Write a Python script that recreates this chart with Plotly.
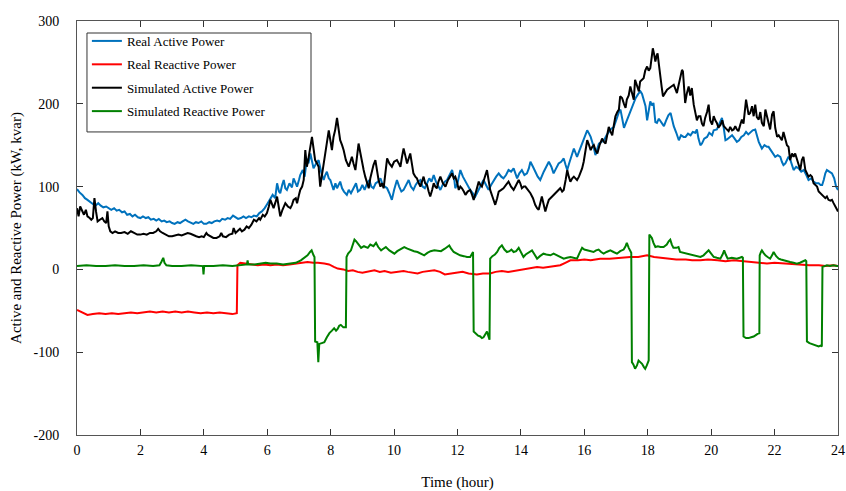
import plotly.graph_objects as go

# ---- data (time in hours, power in kW / kvar) ----
real_active = [
(0.00,97),(0.08,93),(0.17,90),(0.25,86),(0.33,84),(0.42,81),(0.50,79),(0.58,77),(0.67,80),(0.75,77),(0.83,75),(0.92,76),
(1.00,74),(1.08,72),(1.17,74),(1.25,71),(1.33,72),(1.42,69),(1.50,70),(1.58,66),(1.67,67),(1.75,64),(1.83,66),(1.92,63),
(2.00,62),(2.08,64),(2.17,62),(2.25,63),(2.33,60),(2.42,61),(2.50,59),(2.58,61),(2.67,58),(2.75,59),(2.83,57),(2.92,58),
(3.00,56),(3.08,55),(3.17,57),(3.25,56),(3.33,58),(3.42,60),(3.50,58),(3.58,57),(3.67,55),(3.75,57),(3.83,56),(3.92,58),
(4.00,55),(4.08,55),(4.17,57),(4.25,56),(4.33,58),(4.42,59),(4.50,58),(4.58,61),(4.67,60),(4.75,62),(4.83,61),(4.92,65),
(5.00,63),(5.08,61),(5.17,62),(5.25,64),(5.33,62),(5.42,64),(5.50,63),(5.58,65),(5.67,64),(5.75,68),(5.83,70),(5.92,74),
(6.00,79),(6.08,84),(6.17,90),(6.25,86),(6.31,104),(6.37,94),(6.41,92),(6.47,102),(6.52,108),(6.57,98),(6.62,96),(6.70,104),
(6.78,99),(6.83,110),(6.90,104),(6.94,100),(7.00,108),(7.04,114),(7.12,120),(7.18,112),(7.25,134),(7.30,128),(7.36,140),
(7.41,130),(7.46,122),(7.54,128),(7.62,132),(7.70,118),(7.78,108),(7.83,114),(7.88,118),(7.94,110),(7.99,108),(8.04,102),
(8.09,96),(8.15,104),(8.20,98),(8.30,106),(8.36,98),(8.42,94),(8.51,90),(8.57,96),(8.64,92),(8.72,98),(8.80,104),(8.86,94),
(8.93,96),(9.00,102),(9.07,96),(9.15,104),(9.22,108),(9.28,100),(9.35,98),(9.42,104),(9.50,106),(9.57,110),(9.64,102),
(9.71,100),(9.78,98),(9.85,92),(9.93,84),(10.00,96),(10.09,108),(10.16,100),(10.23,94),(10.30,96),(10.38,102),(10.46,108),
(10.53,100),(10.61,96),(10.68,102),(10.75,106),(10.83,108),(10.90,100),(10.97,98),(11.04,104),(11.11,110),(11.18,106),
(11.25,114),(11.32,106),(11.39,100),(11.46,96),(11.53,102),(11.60,106),(11.67,108),(11.75,114),(11.83,120),(11.90,108),
(11.93,98),(12.00,104),(12.09,120),(12.17,112),(12.25,106),(12.32,100),(12.40,96),(12.48,92),(12.56,88),(12.64,94),
(12.72,100),(12.82,108),(12.90,102),(12.98,96),(13.06,102),(13.14,108),(13.22,112),(13.30,116),(13.38,112),(13.45,110),
(13.53,114),(13.61,120),(13.69,118),(13.77,122),(13.84,114),(13.88,110),(13.95,116),(14.03,120),(14.11,114),(14.19,116),
(14.25,122),(14.30,130),(14.38,124),(14.45,118),(14.53,112),(14.61,108),(14.67,114),(14.72,118),(14.80,124),(14.88,130),
(14.96,124),(15.03,116),(15.11,122),(15.19,128),(15.27,130),(15.35,134),(15.41,126),(15.46,120),(15.52,128),(15.56,134),
(15.62,140),(15.67,146),(15.72,140),(15.77,136),(15.85,144),(15.93,152),(16.01,160),(16.09,168),(16.15,164),(16.20,160),
(16.28,150),(16.35,138),(16.41,146),(16.46,152),(16.54,154),(16.62,156),(16.70,162),(16.77,166),(16.85,170),(16.93,172),
(16.98,178),(17.04,185),(17.09,190),(17.14,193),(17.20,182),(17.25,171),(17.32,178),(17.40,186),(17.46,193),(17.54,200),
(17.62,207),(17.70,212),(17.77,215),(17.82,212),(17.88,204),(17.93,197),(17.98,180),(18.03,190),(18.08,203),(18.13,198),
(18.18,201),(18.24,178),(18.29,177),(18.35,182),(18.42,178),(18.51,173),(18.58,180),(18.65,186),(18.72,189),(18.77,180),
(18.82,173),(18.90,165),(18.98,156),(19.05,162),(19.13,160),(19.19,160),(19.27,164),(19.35,162),(19.42,166),(19.50,165),
(19.55,169),(19.60,158),(19.66,150),(19.71,152),(19.78,158),(19.87,160),(19.94,165),(20.03,162),(20.08,168),(20.18,169),
(20.24,175),(20.29,179),(20.34,183),(20.40,170),(20.45,156),(20.50,157),(20.58,160),(20.66,162),(20.74,158),(20.81,154),
(20.88,156),(20.95,160),(21.03,162),(21.10,166),(21.17,163),(21.24,165),(21.31,168),(21.39,169),(21.45,160),(21.50,154),
(21.55,150),(21.60,146),(21.68,150),(21.76,148),(21.81,148),(21.88,144),(21.97,140),(22.02,136),(22.10,138),(22.18,136),
(22.23,130),(22.28,126),(22.34,128),(22.44,136),(22.50,132),(22.55,126),(22.60,120),(22.68,124),(22.76,122),(22.84,118),
(22.92,120),(23.00,114),(23.07,108),(23.15,110),(23.23,106),(23.31,104),(23.39,104),(23.45,102),(23.50,102),(23.55,108),
(23.60,116),(23.65,120),(23.72,118),(23.81,116),(23.88,110),(23.94,100),(24.00,96)]

sim_active = [
(0.00,74),(0.05,64),(0.10,76),(0.17,70),(0.22,66),(0.28,72),(0.33,64),(0.40,62),(0.45,60),(0.50,62),(0.55,86),(0.60,70),
(0.65,58),(0.72,60),(0.80,62),(0.86,58),(0.92,56),(0.96,70),(1.00,52),(1.05,46),(1.12,44),(1.20,46),(1.30,44),(1.39,44),
(1.50,45),(1.60,43),(1.70,46),(1.80,44),(1.90,42),(2.00,42),(2.10,43),(2.20,42),(2.30,44),(2.40,44),(2.50,46),(2.56,49),
(2.62,46),(2.70,44),(2.80,42),(2.90,40),(3.00,40),(3.10,41),(3.20,42),(3.30,41),(3.40,43),(3.49,44),(3.58,43),(3.67,41),
(3.76,40),(3.85,39),(3.93,40),(4.00,39),(4.08,44),(4.12,42),(4.20,40),(4.30,38),(4.40,38),(4.50,40),(4.55,44),(4.60,40),
(4.70,39),(4.80,42),(4.90,43),(4.94,50),(5.00,44),(5.07,46),(5.14,49),(5.20,46),(5.28,48),(5.35,52),(5.42,50),(5.50,54),
(5.58,60),(5.66,58),(5.74,62),(5.78,60),(5.86,66),(5.92,64),(5.99,68),(6.05,76),(6.10,84),(6.16,78),(6.20,74),(6.25,80),
(6.31,88),(6.36,76),(6.41,64),(6.48,72),(6.57,80),(6.65,76),(6.73,74),(6.78,78),(6.83,84),(6.90,86),(6.94,80),(7.00,90),
(7.04,96),(7.10,100),(7.15,108),(7.20,144),(7.25,124),(7.30,134),(7.36,150),(7.41,160),(7.46,146),(7.51,132),(7.57,128),
(7.62,124),(7.67,100),(7.72,112),(7.78,124),(7.84,140),(7.90,158),(7.94,168),(7.99,156),(8.04,144),(8.09,160),(8.14,168),
(8.20,183),(8.25,170),(8.30,156),(8.36,150),(8.41,144),(8.48,132),(8.57,124),(8.62,130),(8.67,136),(8.72,128),(8.78,120),
(8.83,136),(8.88,152),(8.94,140),(8.99,128),(9.04,120),(9.09,112),(9.15,104),(9.20,98),(9.25,110),(9.30,120),(9.35,126),
(9.41,132),(9.46,120),(9.51,108),(9.57,100),(9.62,104),(9.67,98),(9.72,118),(9.78,134),(9.85,128),(9.93,124),(10.00,130),
(10.09,132),(10.15,128),(10.20,124),(10.25,136),(10.30,146),(10.35,138),(10.41,128),(10.46,134),(10.51,140),(10.56,128),
(10.61,116),(10.67,112),(10.72,110),(10.78,104),(10.83,100),(10.88,106),(10.93,112),(10.98,104),(11.04,102),(11.09,94),
(11.14,88),(11.20,96),(11.25,104),(11.30,100),(11.35,98),(11.40,106),(11.46,112),(11.54,104),(11.62,100),(11.70,108),
(11.78,112),(11.83,116),(11.88,110),(11.93,112),(11.98,106),(12.04,96),(12.09,100),(12.14,98),(12.20,94),(12.25,90),
(12.32,94),(12.40,96),(12.46,90),(12.51,84),(12.57,92),(12.62,100),(12.67,106),(12.72,102),(12.77,100),(12.85,110),
(12.93,120),(12.98,108),(13.03,96),(13.10,88),(13.19,78),(13.25,86),(13.30,94),(13.38,96),(13.45,98),(13.53,102),
(13.61,106),(13.69,100),(13.77,96),(13.85,102),(13.93,108),(13.98,104),(14.03,98),(14.09,100),(14.14,100),(14.22,96),
(14.30,92),(14.38,86),(14.45,78),(14.51,74),(14.56,72),(14.61,80),(14.66,88),(14.72,78),(14.77,70),(14.83,78),(14.88,84),
(14.93,86),(14.98,88),(15.06,90),(15.14,94),(15.19,96),(15.24,98),(15.30,94),(15.35,96),(15.41,108),(15.46,120),(15.51,112),
(15.56,106),(15.62,110),(15.67,112),(15.72,110),(15.77,108),(15.83,112),(15.88,116),(15.93,122),(15.98,130),(16.04,142),
(16.09,156),(16.15,150),(16.20,144),(16.25,148),(16.30,150),(16.35,144),(16.41,140),(16.48,150),(16.56,158),(16.62,154),
(16.67,152),(16.72,162),(16.77,172),(16.83,166),(16.88,162),(16.93,174),(16.98,185),(17.04,190),(17.09,193),(17.13,209),
(17.19,207),(17.25,200),(17.30,195),(17.34,205),(17.40,210),(17.45,221),(17.50,214),(17.56,205),(17.60,229),(17.66,222),
(17.72,215),(17.76,227),(17.82,229),(17.87,231),(17.92,240),(17.98,245),(18.03,240),(18.08,243),(18.12,255),(18.16,267),
(18.20,260),(18.24,251),(18.28,258),(18.31,261),(18.35,248),(18.39,233),(18.44,220),(18.48,209),(18.55,213),(18.61,217),
(18.68,219),(18.76,221),(18.82,223),(18.87,218),(18.92,213),(18.97,222),(19.02,230),(19.08,241),(19.11,239),(19.15,215),
(19.18,201),(19.23,212),(19.29,221),(19.34,210),(19.39,219),(19.45,199),(19.50,191),(19.55,180),(19.60,185),(19.66,185),
(19.71,176),(19.76,173),(19.81,183),(19.87,190),(19.92,199),(19.97,180),(20.03,175),(20.08,185),(20.13,180),(20.18,177),
(20.23,171),(20.30,175),(20.35,180),(20.40,173),(20.47,170),(20.55,167),(20.60,172),(20.66,168),(20.71,169),(20.76,173),
(20.81,169),(20.86,167),(20.92,175),(20.97,181),(21.02,176),(21.06,195),(21.10,205),(21.14,196),(21.18,187),(21.23,189),
(21.29,197),(21.34,185),(21.39,199),(21.44,184),(21.50,181),(21.55,190),(21.60,177),(21.66,173),(21.71,193),(21.76,185),
(21.81,178),(21.86,169),(21.92,187),(21.97,191),(22.02,171),(22.08,160),(22.13,162),(22.18,158),(22.23,156),(22.28,166),
(22.34,155),(22.39,150),(22.44,148),(22.49,132),(22.55,140),(22.60,136),(22.65,140),(22.70,134),(22.76,128),(22.81,120),
(22.86,132),(22.91,136),(22.97,120),(23.02,116),(23.07,112),(23.13,114),(23.18,112),(23.23,104),(23.29,102),(23.34,100),
(23.39,94),(23.44,92),(23.50,90),(23.55,88),(23.60,86),(23.65,88),(23.70,84),(23.76,83),(23.81,84),(23.86,80),(23.92,76),
(23.97,72),(24.00,70)]

real_reactive = [
(0,-49),(0.15,-52),(0.33,-55),(0.5,-54),(0.7,-53),(0.9,-54),(1.1,-53),(1.3,-54),(1.5,-53),(1.7,-52),(1.9,-53),(2.1,-52),
(2.3,-51),(2.5,-52),(2.7,-51),(2.9,-52),(3.1,-51),(3.3,-52),(3.5,-51),(3.7,-52),(3.9,-53),(4.1,-52),(4.3,-53),(4.5,-52),
(4.7,-53),(4.9,-54),(5.04,-53),(5.06,5),(5.15,8),(5.3,7),(5.5,6),(5.7,5),(5.9,6),(6.1,5),(6.3,6),(6.5,5),(6.7,6),(6.9,7),
(7.1,8),(7.27,9),(7.45,8),(7.6,8),(7.8,7),(7.95,6),(8.1,3),(8.22,1),(8.4,0),(8.55,-2),(8.7,-1),(8.85,-3),(9.0,-4),(9.2,-2),
(9.38,-1),(9.55,-3),(9.7,-2),(9.9,-4),(10.1,-3),(10.3,-2),(10.43,-3),(10.6,-4),(10.74,-5),(10.9,-3),(11.1,-2),(11.27,-1),
(11.45,-3),(11.6,-6),(11.8,-5),(12.0,-4),(12.16,-3),(12.35,-5),(12.61,-6),(12.8,-5),(13.03,-5),(13.2,-3),(13.4,-2),
(13.6,-3),(13.88,-1),(14.1,0),(14.3,2),(14.51,3),(14.7,2),(14.9,3),(15.1,4),(15.24,5),(15.4,8),(15.56,11),(15.8,11),
(16.0,12),(16.2,11),(16.5,13),(16.8,13),(17.1,14),(17.45,15),(17.7,15),(17.98,17),(18.2,15),(18.4,14),(18.61,13),
(18.9,12),(19.2,12),(19.4,11),(19.66,11),(19.9,12),(20.2,11),(20.45,10),(20.71,11),(20.95,10),(21.23,9),(21.5,8),
(21.76,7),(22.0,8),(22.3,7),(22.55,6),(22.81,6),(23.1,5),(23.4,5),(23.6,4),(23.86,5),(24.0,4)]

sim_reactive = [
(0,4),(0.3,5),(0.6,4),(0.9,4),(1.2,5),(1.5,4),(1.8,4),(2.1,5),(2.4,4),(2.6,5),(2.66,9),(2.72,14),(2.76,8),(2.82,5),
(3.0,4),(3.3,4),(3.6,5),(3.9,4),(3.97,4),(3.99,-6),(4.01,4),(4.3,4),(4.6,5),(4.9,4),(5.2,5),(5.36,6),(5.38,11),(5.40,6),
(5.6,6),(5.8,7),(5.95,8),(6.1,7),(6.3,7),(6.5,6),(6.7,7),(6.9,8),(7.06,11),(7.15,14),(7.27,17),(7.35,21),(7.4,23),
(7.46,17),(7.49,15),(7.51,-87),(7.58,-88),(7.61,-112),(7.64,-90),(7.72,-89),(7.80,-88),(7.88,-82),(7.96,-77),(8.04,-74),
(8.11,-71),(8.17,-74),(8.22,-72),(8.27,-68),(8.32,-67),(8.40,-70),(8.48,-70),(8.50,15),(8.55,19),(8.64,23),(8.70,32),
(8.75,36),(8.80,34),(8.85,32),(8.92,28),(8.96,26),(9.05,28),(9.17,26),(9.25,30),(9.35,28),(9.43,32),(9.50,27),(9.59,23),
(9.66,25),(9.74,27),(9.85,23),(9.93,21),(10.01,19),(10.1,22),(10.2,24),(10.32,27),(10.42,25),(10.53,23),(10.63,22),
(10.74,21),(10.85,19),(10.95,17),(11.05,20),(11.15,22),(11.27,23),(11.38,22),(11.48,22),(11.60,25),(11.68,27),(11.74,29),
(11.80,25),(11.88,21),(11.98,19),(12.08,17),(12.2,16),(12.3,15),(12.4,15),(12.46,20),(12.49,21),(12.51,-75),(12.58,-78),
(12.65,-80),(12.72,-81),(12.77,-83),(12.82,-82),(12.88,-78),(12.93,-75),(12.97,-80),(13.01,-85),(13.03,13),(13.10,16),
(13.18,18),(13.25,21),(13.32,26),(13.40,29),(13.48,24),(13.56,21),(13.64,22),(13.70,24),(13.77,21),(13.85,22),(13.93,26),
(14.00,20),(14.08,15),(14.15,18),(14.25,20),(14.35,23),(14.43,18),(14.51,13),(14.60,16),(14.71,19),(14.80,18),(14.93,17),
(15.03,19),(15.14,17),(15.25,15),(15.35,13),(15.45,14),(15.56,15),(15.66,14),(15.77,13),(15.85,20),(15.93,26),(16.00,24),
(16.08,23),(16.18,22),(16.29,21),(16.37,23),(16.45,24),(16.53,21),(16.61,19),(16.70,21),(16.82,23),(16.92,21),(17.03,19),
(17.13,22),(17.24,24),(17.30,28),(17.34,32),(17.40,26),(17.45,21),(17.48,20),(17.50,-112),(17.55,-115),(17.60,-120),
(17.66,-116),(17.71,-110),(17.77,-112),(17.82,-114),(17.88,-118),(17.92,-120),(17.97,-116),(18.01,-112),(18.03,-110),
(18.05,42),(18.09,40),(18.13,38),(18.18,32),(18.24,27),(18.32,28),(18.40,27),(18.50,27),(18.60,30),(18.66,34),(18.71,36),
(18.76,30),(18.81,26),(18.90,26),(18.97,27),(19.02,21),(19.12,20),(19.24,19),(19.35,18),(19.45,17),(19.55,16),(19.66,15),
(19.76,17),(19.85,21),(19.92,23),(20.00,19),(20.08,15),(20.18,14),(20.29,13),(20.36,18),(20.41,23),(20.46,18),(20.52,13),
(20.65,14),(20.81,13),(20.90,14),(20.97,15),(21.00,14),(21.02,-81),(21.10,-83),(21.18,-83),(21.26,-82),(21.34,-81),
(21.42,-79),(21.50,-77),(21.52,-78),(21.53,17),(21.57,21),(21.60,23),(21.65,20),(21.71,17),(21.78,15),(21.86,13),
(21.92,17),(21.97,21),(22.05,16),(22.13,13),(22.20,12),(22.28,11),(22.38,10),(22.49,9),(22.60,8),(22.70,7),(22.80,8),
(22.88,9),(22.97,11),(23.00,10),(23.02,-87),(23.10,-89),(23.18,-90),(23.23,-91),(23.30,-92),(23.39,-93),(23.45,-92),
(23.49,-93),(23.51,3),(23.60,4),(23.65,5),(23.75,4),(23.85,5),(23.97,4),(24.0,4)]

x_ticks = [0, 2, 4, 6, 8, 10, 12, 14, 16, 18, 20, 22, 24]
y_ticks = [-200, -100, 0, 100, 200, 300]

series = [
    ("Real Active Power", real_active, "#0072BD"),
    ("Real Reactive Power", real_reactive, "#FF0000"),
    ("Simulated Active Power", sim_active, "#000000"),
    ("Simulated Reactive Power", sim_reactive, "#008000"),
]

FONT = "Liberation Serif, Times New Roman, serif"

fig = go.Figure()
for name, pts, col in series:
    fig.add_trace(go.Scatter(
        x=[p[0] for p in pts], y=[p[1] for p in pts], mode="lines", name=name,
        legendgroup=name, line=dict(color=col, width=2)))

axis_common = dict(
    showline=True, linecolor="#555555", linewidth=1, mirror="ticks",
    ticks="inside", ticklen=6, tickcolor="#333333", tickwidth=1,
    showgrid=False, zeroline=False, automargin=False,
    tickfont=dict(family=FONT, size=14, color="#000000"),
)

fig.update_layout(
    width=846, height=491,
    margin=dict(l=77, r=8, t=21, b=56),
    paper_bgcolor="white", plot_bgcolor="white",
    font=dict(family=FONT, color="#000000"),
    showlegend=True,
    legend=dict(
        x=0.013, y=0.988, xanchor="left", yanchor="top",
        bgcolor="rgba(0,0,0,0)", borderwidth=0,
        font=dict(family=FONT, size=13, color="#000000"),
        traceorder="grouped", tracegroupgap=3.5,
    ),
    shapes=[dict(type="rect", xref="paper", yref="paper",
                 x0=0.0131, x1=0.3075, y0=0.732, y1=0.971,
                 line=dict(color="#333333", width=1), fillcolor="white", layer="below")],
    xaxis=dict(range=[0, 24], tickvals=x_ticks, ticktext=[str(v) for v in x_ticks],
               ticklabelstandoff=2,
               title=dict(text="Time (hour)", font=dict(family=FONT, size=15), standoff=21),
               **axis_common),
    yaxis=dict(range=[-200, 300], tickvals=y_ticks, ticktext=[str(v) for v in y_ticks],
               ticklabelstandoff=14,
               title=dict(text="Active and Reactive Power (kW, kvar)", font=dict(family=FONT, size=15), standoff=8),
               **axis_common),
)

fig.write_html("out.html", config={"displayModeBar": False},
               post_script="document.body.style.margin='0px';")
